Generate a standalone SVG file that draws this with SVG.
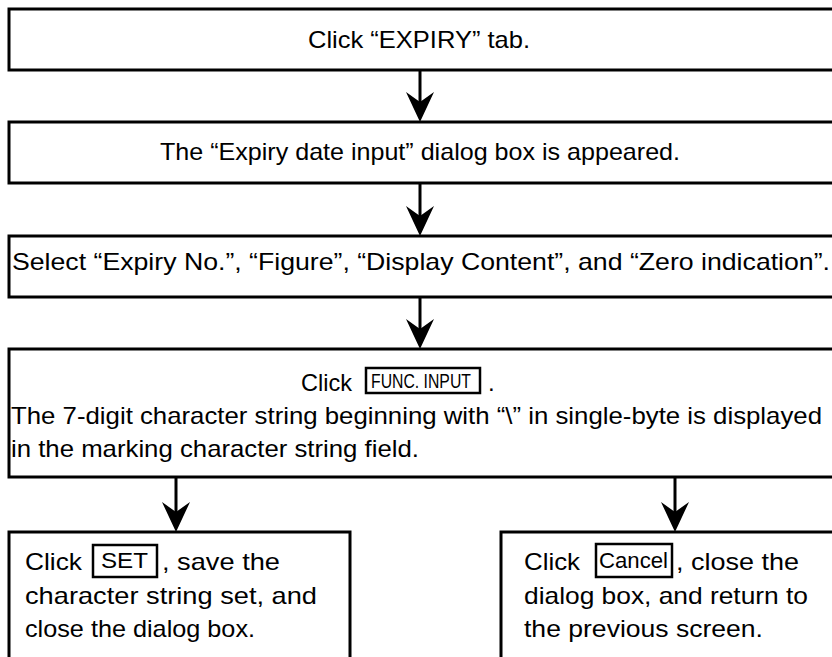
<svg xmlns="http://www.w3.org/2000/svg" width="832" height="657" viewBox="0 0 832 657">
<style>
.box{fill:#fff;stroke:#000;stroke-width:3}
.btn{fill:none;stroke:#000;stroke-width:2.5}
.t{font-family:"Liberation Sans",Arial,sans-serif;font-size:24px;fill:#000}
.b{font-family:"Liberation Sans",Arial,sans-serif;font-size:24px;fill:#000}
.s{font-family:"Liberation Sans",Arial,sans-serif;font-size:22px;fill:#000}
.f{font-family:"Liberation Sans",Arial,sans-serif;font-size:21px;fill:#000}
.c{fill:none;stroke:#000;stroke-width:3}
</style>
<defs>
<marker id="ah" markerUnits="userSpaceOnUse" markerWidth="30" markerHeight="28" viewBox="0 0 30 28" refX="10" refY="14" orient="auto">
<path d="M0,0 L30,14 L0,28 L10,14 Z" fill="#000"/>
</marker>
</defs>
<rect width="832" height="657" fill="#fff"/>
<g id="connectors">
<path class="c" d="M420,70 V102" marker-end="url(#ah)"/>
<path class="c" d="M420,183 V216" marker-end="url(#ah)"/>
<path class="c" d="M420,297 V329" marker-end="url(#ah)"/>
<path class="c" d="M176,477 V512" marker-end="url(#ah)"/>
<path class="c" d="M675,477 V512" marker-end="url(#ah)"/>
</g>
<g id="n1">
<rect class="box" x="9" y="9" width="840" height="61"/>
<text class="t" x="308" y="48" textLength="222" lengthAdjust="spacingAndGlyphs">Click “EXPIRY” tab.</text>
</g>
<g id="n2">
<rect class="box" x="9" y="122" width="840" height="61"/>
<text class="t" x="160" y="160" textLength="520" lengthAdjust="spacingAndGlyphs">The “Expiry date input” dialog box is appeared.</text>
</g>
<g id="n3">
<rect class="box" x="9" y="236" width="840" height="61"/>
<text class="t" x="12" y="270" textLength="818" lengthAdjust="spacingAndGlyphs">Select “Expiry No.”, “Figure”, “Display Content”, and “Zero indication”.</text>
</g>
<g id="n4">
<rect class="box" x="9" y="349" width="840" height="128"/>
<text class="t" x="301" y="391" textLength="51" lengthAdjust="spacingAndGlyphs">Click</text>
<rect class="btn" x="366" y="368" width="114" height="25"/>
<text class="f" transform="translate(371,388) scale(0.752,1)" x="0" y="0">FUNC. INPUT</text>
<text class="t" x="488" y="391">.</text>
<text class="t" x="11" y="424" textLength="811" lengthAdjust="spacingAndGlyphs">The 7-digit character string beginning with “\” in single-byte is displayed</text>
<text class="t" x="11" y="457" textLength="408" lengthAdjust="spacingAndGlyphs">in the marking character string field.</text>
</g>
<g id="n5">
<rect class="box" x="9" y="532" width="341" height="140"/>
<text class="b" x="25" y="570" textLength="57" lengthAdjust="spacingAndGlyphs">Click</text>
<rect class="btn" x="93" y="545" width="64" height="32"/>
<text class="s" x="101" y="568" textLength="47" lengthAdjust="spacingAndGlyphs">SET</text>
<text class="b" x="162" y="570" textLength="118" lengthAdjust="spacingAndGlyphs">, save the</text>
<text class="b" x="25" y="603.5" textLength="292" lengthAdjust="spacingAndGlyphs">character string set,  and</text>
<text class="b" x="25" y="637" textLength="230" lengthAdjust="spacingAndGlyphs">close the dialog box.</text>
</g>
<g id="n6">
<rect class="box" x="501" y="532" width="340" height="140"/>
<text class="b" x="524" y="570" textLength="56" lengthAdjust="spacingAndGlyphs">Click</text>
<rect class="btn" x="596" y="544" width="76" height="33"/>
<text class="s" x="599" y="568" textLength="69" lengthAdjust="spacingAndGlyphs">Cancel</text>
<text class="b" x="676" y="570" textLength="123" lengthAdjust="spacingAndGlyphs">, close the</text>
<text class="b" x="524" y="603.5" textLength="284" lengthAdjust="spacingAndGlyphs">dialog box, and return to</text>
<text class="b" x="524" y="637" textLength="239" lengthAdjust="spacingAndGlyphs">the previous screen.</text>
</g>
</svg>
